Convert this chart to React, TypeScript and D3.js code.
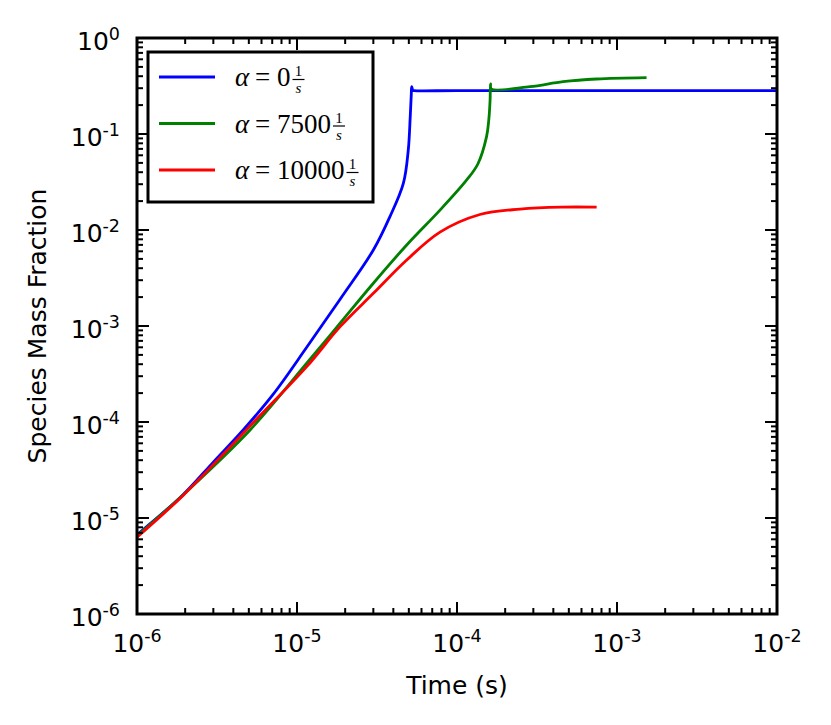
import * as d3 from 'd3';

const W = 831;
const H = 725;
const margin = { top: 38, right: 54, bottom: 111, left: 137 };

const xDomain: [number, number] = [1e-6, 1e-2];
const yDomain: [number, number] = [1e-6, 1];
const decadeExps = [-6, -5, -4, -3, -2, -1, 0];

// alpha = 0 1/s
const blueT = [1e-6, 1.94e-6, 2.99e-6, 4.61e-6, 7.11e-6, 1.15e-5, 1.86e-5, 3.0e-5, 3.81e-5, 4.62e-5, 4.96e-5, 5.1e-5, 5.18e-5, 5.21e-5, 5.3e-5, 5.38e-5, 1e-4, 1e-3, 1e-2];
const blueY = [6.7e-6, 1.75e-5, 3.8e-5, 8.26e-5, 1.95e-4, 6.0e-4, 1.9e-3, 6.19e-3, 1.38e-2, 3.06e-2, 6.81e-2, 0.15, 0.26, 0.311, 0.285, 0.283, 0.283, 0.283, 0.283];

// alpha = 7500 1/s
const greenT = [1e-6, 1.94e-6, 5.09e-6, 1.15e-5, 1.86e-5, 3.0e-5, 4.85e-5, 7.83e-5, 1.15e-4, 1.35e-4, 1.53e-4, 1.58e-4, 1.61e-4, 1.62e-4, 1.64e-4, 2.86e-4, 4.6e-4, 7.46e-4, 1.53e-3];
const greenY = [6.5e-6, 1.74e-5, 8.26e-5, 4.09e-4, 1.07e-3, 2.79e-3, 6.98e-3, 1.61e-2, 3.32e-2, 4.87e-2, 9.38e-2, 0.14, 0.226, 0.332, 0.294, 0.311, 0.351, 0.374, 0.386];

// alpha = 10000 1/s
const redT = [1e-6, 1.94e-6, 5.62e-6, 1.15e-5, 1.86e-5, 3.0e-5, 4.85e-5, 7.83e-5, 1.39e-4, 2.48e-4, 4.5e-4, 7.46e-4];
const redY = [6.3e-6, 1.72e-5, 1.08e-4, 3.77e-4, 9.84e-4, 2.19e-3, 4.87e-3, 9.5e-3, 1.45e-2, 1.65e-2, 1.73e-2, 1.73e-2];

const seriesNames = ['0', '7500', '10000'];
const seriesColors = ['#0000ff', '#008000', '#ff0000'];

const isDecade = (t: number) => Math.abs(Math.log10(t) - Math.round(Math.log10(t))) < 1e-9;

export default function App() {
  const innerW = W - margin.left - margin.right;
  const innerH = H - margin.top - margin.bottom;

  const x = d3.scaleLog().domain(xDomain).range([0, innerW]);
  const y = d3.scaleLog().domain(yDomain).range([innerH, 0]);

  const line = d3.line<[number, number]>()
    .x(d => x(d[0]))
    .y(d => y(d[1]))
    .curve(d3.curveCatmullRom.alpha(0.5));

  const series = [
    d3.zip(blueT, blueY) as [number, number][],
    d3.zip(greenT, greenY) as [number, number][],
    d3.zip(redT, redY) as [number, number][],
  ];

  const majorX = x.ticks().filter(isDecade);
  const minorX = x.ticks().filter(t => !isDecade(t));
  const majorY = y.ticks().filter(isDecade);
  const minorY = y.ticks().filter(t => !isDecade(t));

  const majLen = 12;
  const minLen = 6;
  const tickFont = 'DejaVu Sans, sans-serif';
  const legFont = 'Liberation Serif, serif';
  const legFs = 27;
  const digitW = legFs * 0.5;

  return (
    <>
      <style>{`body{margin:0}`}</style>
      <svg width={W} height={H} style={{ display: 'block', background: '#fff' }}>
        <g transform={`translate(${margin.left},${margin.top})`}>
          <defs>
            <clipPath id="plot-clip">
              <rect x={0} y={0} width={innerW} height={innerH} />
            </clipPath>
          </defs>

          <g clipPath="url(#plot-clip)">
            {series.map((s, i) => (
              <path key={i} d={line(s) ?? ''} fill="none" stroke={seriesColors[i]}
                strokeWidth={2.8} strokeLinejoin="round" />
            ))}
          </g>

          {/* ticks point inward, on all four sides */}
          <g stroke="#000" strokeWidth={2}>
            {majorX.map(t => (
              <g key={`mx${t}`}>
                <line x1={x(t)} x2={x(t)} y1={innerH} y2={innerH - majLen} />
                <line x1={x(t)} x2={x(t)} y1={0} y2={majLen} />
              </g>
            ))}
            {minorX.map(t => (
              <g key={`nx${t}`}>
                <line x1={x(t)} x2={x(t)} y1={innerH} y2={innerH - minLen} />
                <line x1={x(t)} x2={x(t)} y1={0} y2={minLen} />
              </g>
            ))}
            {majorY.map(t => (
              <g key={`my${t}`}>
                <line x1={0} x2={majLen} y1={y(t)} y2={y(t)} />
                <line x1={innerW} x2={innerW - majLen} y1={y(t)} y2={y(t)} />
              </g>
            ))}
            {minorY.map(t => (
              <g key={`ny${t}`}>
                <line x1={0} x2={minLen} y1={y(t)} y2={y(t)} />
                <line x1={innerW} x2={innerW - minLen} y1={y(t)} y2={y(t)} />
              </g>
            ))}
          </g>

          <rect x={0} y={0} width={innerW} height={innerH} fill="none" stroke="#000" strokeWidth={3} />

          {decadeExps.filter(e => e <= -2).map(e => (
            <text key={`xl${e}`} x={x(Math.pow(10, e))} y={innerH + 38} textAnchor="middle"
              fontFamily={tickFont} fontSize={25} fill="#000">
              10<tspan fontSize={17.5} dy={-10}>{String(e)}</tspan>
            </text>
          ))}

          {decadeExps.map(e => (
            <text key={`yl${e}`} x={-17} y={y(Math.pow(10, e)) + 12} textAnchor="end"
              fontFamily={tickFont} fontSize={25} fill="#000">
              10<tspan fontSize={17.5} dy={-10}>{String(e)}</tspan>
            </text>
          ))}

          <text x={innerW / 2} y={innerH + 80} textAnchor="middle" fontFamily={tickFont}
            fontSize={25} fill="#000">Time (s)</text>
          <text transform={`translate(${-91},${innerH / 2}) rotate(-90)`} textAnchor="middle"
            fontFamily={tickFont} fontSize={25} fill="#000">Species Mass Fraction</text>

          {/* legend */}
          <g transform="translate(11,14)">
            <rect x={0} y={0} width={225} height={150} fill="#fff" stroke="#000" strokeWidth={3} />
            {seriesNames.map((name, i) => {
              const cy = 25 + i * 46.5;
              const base = cy + 9;
              const fracX = 129 + name.length * digitW + 2;
              const fracW = 12;
              const barY = base - 6.5;
              return (
                <g key={name}>
                  <line x1={11} x2={67} y1={cy} y2={cy} stroke={seriesColors[i]} strokeWidth={3} />
                  <text x={87} y={base} fontFamily={legFont} fontSize={legFs} fontStyle="italic" fill="#000">α</text>
                  <text x={107} y={base} fontFamily={legFont} fontSize={legFs} fill="#000">=</text>
                  <text x={129} y={base} fontFamily={legFont} fontSize={legFs} fill="#000">{name}</text>
                  <line x1={fracX} x2={fracX + fracW} y1={barY} y2={barY} stroke="#000" strokeWidth={1.2} />
                  <text x={fracX + fracW / 2} y={barY - 3.5} textAnchor="middle" fontFamily={legFont}
                    fontSize={15} fill="#000">1</text>
                  <text x={fracX + fracW / 2} y={barY + 13.5} textAnchor="middle" fontFamily={legFont}
                    fontSize={15} fontStyle="italic" fill="#000">s</text>
                </g>
              );
            })}
          </g>
        </g>
      </svg>
    </>
  );
}
